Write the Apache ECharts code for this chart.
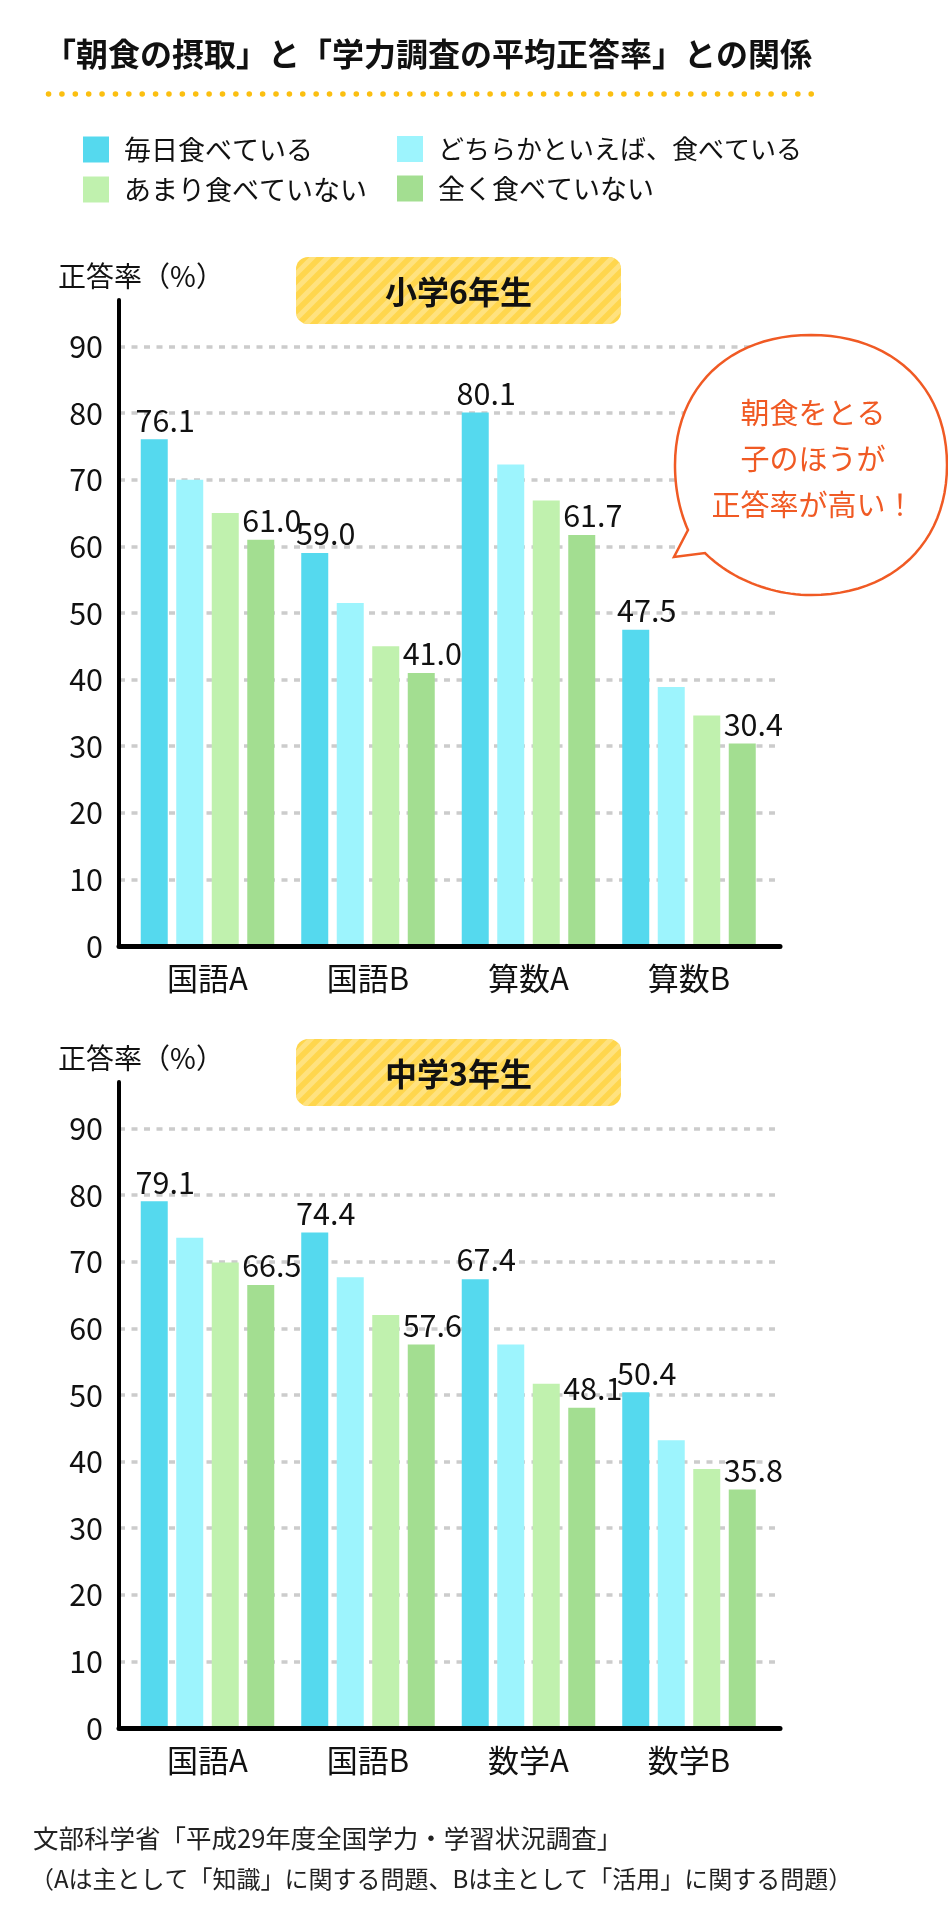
<!DOCTYPE html>
<html><head><meta charset="utf-8">
<script src="https://cdn.jsdelivr.net/npm/echarts@6/dist/echarts.min.js"></script>
<style>html,body{margin:0;padding:0;background:#fff}#c{width:948px;height:1925px}</style>
</head><body><div id="c"></div>
<script>
// ---- data ----
const legendNames = ['毎日食べている', 'どちらかといえば、食べている', 'あまり食べていない', '全く食べていない'];
const seriesColors = ['#55d9ee', '#9df4fd', '#c0f1ae', '#a3de91'];

const elemCategories = ['国語A', '国語B', '算数A', '算数B'];
const elemDaily  = [76.1, 59.0, 80.1, 47.5];
const elemMostly = [70.0, 51.5, 72.3, 38.9];
const elemRarely = [65.0, 45.0, 66.9, 34.6];
const elemNever  = [61.0, 41.0, 61.7, 30.4];

const juniorCategories = ['国語A', '国語B', '数学A', '数学B'];
const juniorDaily  = [79.1, 74.4, 67.4, 50.4];
const juniorMostly = [73.6, 67.7, 57.6, 43.2];
const juniorRarely = [69.9, 62.0, 51.7, 38.9];
const juniorNever  = [66.5, 57.6, 48.1, 35.8];

const yMin = 0, yMax = 97, yInterval = 10;
const titleText = '「朝食の摂取」と「学力調査の平均正答率」との関係';
const badgeTexts = ['小学6年生', '中学3年生'];
const axisName = '正答率（%）';
const bubbleText = '朝食をとる\n子のほうが\n正答率が高い！';
const sourceLines = ['文部科学省「平成29年度全国学力・学習状況調査」',
  '（Aは主として「知識」に関する問題、Bは主として「活用」に関する問題）'];

// ---- fonts ----
function hasFont(f) {
  const c = document.createElement('canvas').getContext('2d');
  c.font = '40px monospace'; const a = c.measureText('0123456789').width;
  c.font = '40px "' + f + '", monospace'; const b = c.measureText('0123456789').width;
  return a !== b;
}
const NUM = hasFont('Liberation Sans Narrow') ? { family: 'Liberation Sans Narrow', size: 33 } : { family: 'Noto Sans CJK JP', size: 30.5 };
const JP = 'Noto Sans CJK JP';

function stripePattern() {
  const s = 15, c = document.createElement('canvas'); c.width = s; c.height = s;
  const ctx = c.getContext('2d');
  ctx.strokeStyle = '#ffe27f'; ctx.lineWidth = 5;
  ctx.beginPath();
  ctx.moveTo(0, s); ctx.lineTo(s, 0);
  ctx.moveTo(-s / 2, s / 2); ctx.lineTo(s / 2, -s / 2);
  ctx.moveTo(s / 2, s * 1.5); ctx.lineTo(s * 1.5, s / 2);
  ctx.stroke();
  return c;
}
const pat = stripePattern();

// bubble outline as sampled cubic segments (decoration)
function bubblePoints() {
  const segs = [
    [[811,335],[892.6,335],[947,387],[947,465]],
    [[947,465],[947,543],[892.6,595],[811,595]],
    [[811,595],[770,595],[730,578],[705,553]],
    'L674,557', 'L688,530',
    [[688,530],[680,512],[675,490],[675,465]],
    [[675,465],[675,387],[729.4,335],[811,335]]
  ];
  const pts = [];
  segs.forEach(s => {
    if (typeof s === 'string') { const p = s.slice(1).split(',').map(Number); pts.push(p); return; }
    for (let i = 0; i <= 24; i++) {
      const t = i / 24, u = 1 - t;
      pts.push([
        u*u*u*s[0][0] + 3*u*u*t*s[1][0] + 3*u*t*t*s[2][0] + t*t*t*s[3][0],
        u*u*u*s[0][1] + 3*u*u*t*s[1][1] + 3*u*t*t*s[2][1] + t*t*t*s[3][1]
      ]);
    }
  });
  return pts;
}

const chartTops = [300, 1082];
const plotH = 646;
const frameLeft = 119, frameW = 661;
const barLeft = 127.25, barW = 642;

const grids = [], xAxes = [], yAxes = [], series = [], graphics = [];
const sets = [
  { cats: elemCategories, vals: [elemDaily, elemMostly, elemRarely, elemNever] },
  { cats: juniorCategories, vals: [juniorDaily, juniorMostly, juniorRarely, juniorNever] }
];

sets.forEach((set, k) => {
  const top = chartTops[k];
  const gFrame = grids.length;
  grids.push({ left: frameLeft, top: top, width: frameW, height: plotH });
  const gBar = grids.length;
  grids.push({ left: barLeft, top: top, width: barW, height: plotH });

  xAxes.push({ gridIndex: gFrame, type: 'category', data: set.cats, z: 5,
    axisLine: { show: true, lineStyle: { color: '#000', width: 5 } },
    axisTick: { show: false }, axisLabel: { show: false }, splitLine: { show: false } });
  yAxes.push({ gridIndex: gFrame, type: 'value', min: yMin, max: yMax, interval: yInterval,
    axisLine: { show: true, lineStyle: { color: '#000', width: 4 } },
    axisTick: { show: false },
    axisLabel: { show: true, showMaxLabel: false, margin: 16, color: '#111', fontSize: NUM.size, fontFamily: NUM.family,
      formatter: v => (v % 10 === 0 ? String(v) : '') },
    splitLine: { show: true, showMaxLine: false, lineStyle: { color: '#cccccc', width: 3.5, type: [6, 6.5] } } });

  const xb = xAxes.length;
  xAxes.push({ gridIndex: gBar, type: 'category', data: set.cats,
    axisLine: { show: false }, axisTick: { show: false },
    axisLabel: { margin: 17, color: '#111', fontSize: 31, fontFamily: JP } });
  const yb = yAxes.length;
  yAxes.push({ gridIndex: gBar, type: 'value', min: yMin, max: yMax, show: false });

  set.vals.forEach((arr, i) => {
    series.push({
      type: 'bar', name: legendNames[i], xAxisIndex: xb, yAxisIndex: yb, data: arr,
      barWidth: 27, barGap: '31.5%',
      itemStyle: { color: seriesColors[i] },
      label: { show: i === 0 || i === 3, position: 'top', distance: 4, offset: [11, 0],
        color: '#111', fontSize: NUM.size, fontFamily: NUM.family,
        formatter: p => p.value.toFixed(1) }
    });
  });

  // badge
  const by = top - 43;
  graphics.push({ type: 'rect', z: 10, shape: { x: 296, y: by, width: 325, height: 67, r: 12 }, style: { fill: '#ffd64d' } });
  graphics.push({ type: 'rect', z: 11, shape: { x: 296, y: by, width: 325, height: 67, r: 12 }, style: { fill: { image: pat, repeat: 'repeat' } } });
  graphics.push({ type: 'text', z: 12, x: 458.5, y: by + 35, style: { text: badgeTexts[k], fill: '#111', fontSize: 32, fontWeight: 'bold', fontFamily: JP, textAlign: 'center', textVerticalAlign: 'middle' } });
  // axis name
  graphics.push({ type: 'text', z: 12, x: 141, y: top - 24, style: { text: axisName, fill: '#111', fontSize: 28, fontFamily: JP, textAlign: 'center', textVerticalAlign: 'middle' } });
});

// title dotted line
graphics.push({ type: 'line', z: 10, shape: { x1: 48.5, y1: 94, x2: 823, y2: 94 },
  style: { stroke: '#fbbf10', lineWidth: 5.5, lineCap: 'round', lineDash: [0.1, 13.28] } });

// speech bubble
graphics.push({ type: 'polygon', z: 20, shape: { points: bubblePoints() }, style: { fill: '#fff', stroke: '#f05a24', lineWidth: 2.5, lineJoin: 'miter' } });
graphics.push({ type: 'text', z: 21, x: 813, y: 459, style: { text: bubbleText, fill: '#f05a24', fontSize: 29, lineHeight: 46, fontFamily: JP, textAlign: 'center', textVerticalAlign: 'middle' } });

// source
graphics.push({ type: 'text', z: 10, x: 33, y: 1838, style: { text: sourceLines[0], fill: '#222', fontSize: 25.5, fontFamily: JP, textAlign: 'left', textVerticalAlign: 'middle' } });
graphics.push({ type: 'text', z: 10, x: 30, y: 1879, style: { text: sourceLines[1], fill: '#222', fontSize: 24, fontFamily: JP, textAlign: 'left', textVerticalAlign: 'middle' } });

const legendCommon = { orient: 'vertical', top: 131, itemWidth: 26, itemHeight: 26, itemGap: 13, icon: 'rect',
  selectedMode: false,
  textStyle: { fontSize: 27, color: '#111', fontFamily: JP, lineHeight: 26, padding: [0, 0, 0, 10] } };

const option = {
  animation: false,
  backgroundColor: '#fff',
  title: { text: titleText, left: 44, top: 38, padding: 0,
    textStyle: { fontSize: 32, fontWeight: 'bold', color: '#111', fontFamily: JP, lineHeight: 32 } },
  legend: [
    Object.assign({}, legendCommon, { left: 78, data: [legendNames[0], legendNames[2]] }),
    Object.assign({}, legendCommon, { left: 392, data: [legendNames[1]] , textStyle: Object.assign({}, legendCommon.textStyle, { fontSize: 26 }) }),
    Object.assign({}, legendCommon, { left: 392, top: 170, data: [legendNames[3]] })
  ],
  grid: grids, xAxis: xAxes, yAxis: yAxes, series: series, graphic: graphics
};

const chart = echarts.init(document.getElementById('c'), null, { renderer: 'canvas' });
chart.setOption(option);
</script>
</body></html>
